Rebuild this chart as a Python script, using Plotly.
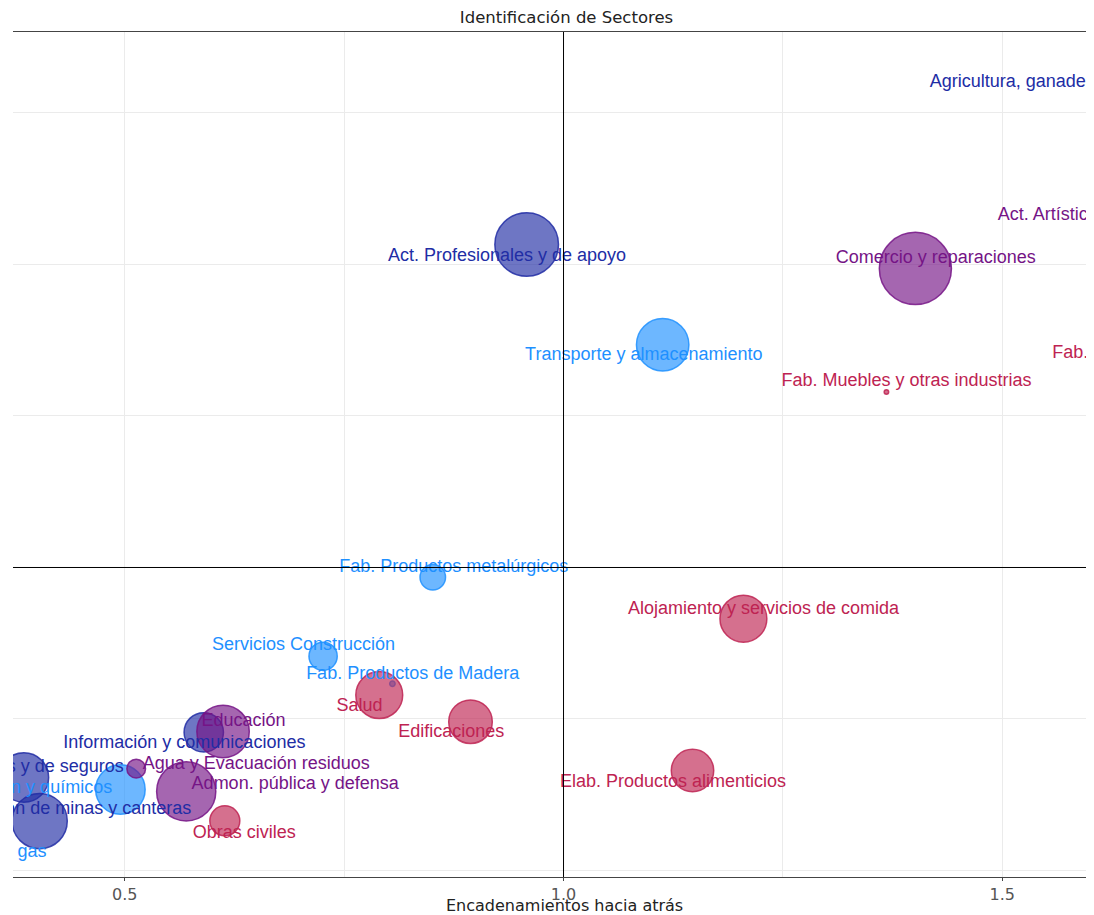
import plotly.graph_objects as go

# ---- Datos ----
sectores = [
    "Act. Profesionales y de apoyo", "Comercio y reparaciones", "Transporte y almacenamiento",
    "Fab. Muebles y otras industrias", "Fab. Productos metalúrgicos", "Alojamiento y servicios de comida",
    "Servicios Construcción", "Fab. Productos de Madera", "Salud", "Edificaciones", "Educación",
    "Información y comunicaciones", "Agua y Evacuación residuos", "Admon. pública y defensa",
    "Obras civiles", "Elab. Productos alimenticios", "Act. Financieras y de seguros",
    "Fab. Refinación y químicos", "Explotación de minas y canteras", "Electricidad y gas",
    "Agricultura, ganadería y pesca", "Act. Artísticas y otros servicios", "Fab. Textiles y cuero",
]
grupo = [
    "azul", "morado", "celeste", "carmesi", "celeste", "carmesi", "celeste", "celeste", "carmesi",
    "carmesi", "morado", "azul", "morado", "morado", "carmesi", "carmesi", "azul", "celeste",
    "azul", "celeste", "azul", "morado", "carmesi",
]
# Encadenamientos hacia atrás
atras = [0.958, 1.401, 1.113, 1.368, 0.851, 1.205, 0.726, 0.805, 0.790, 0.894, 0.612,
         0.590, 0.513, 0.570, 0.614, 1.147, 0.385, 0.495, 0.403, 0.330, 1.700, 1.660, 1.650]
# Encadenamientos hacia adelante
adelante = [2.066, 1.987, 1.735, 1.579, 0.968, 0.831, 0.707, 0.616, 0.579, 0.491, 0.459,
            0.456, 0.336, 0.261, 0.164, 0.330, 0.307, 0.267, 0.163, 0.090, 2.630, 2.200, 1.680]
# Peso del sector (participación, %)
peso = [8.1, 10.4, 5.5, 0.04, 1.3, 4.4, 1.6, 0.06, 4.4, 3.8, 5.5,
        3.1, 0.7, 7.0, 1.8, 3.6, 4.9, 4.9, 6.1, 3.0, 5.0, 3.0, 2.0]
# Ubicación de las etiquetas (en unidades de los ejes)
etiqueta_x = [0.9356, 1.4243, 1.0915, 1.3909, 0.8749, 1.2279, 0.7037, 0.8281, 0.7675, 0.8720, 0.6353,
              0.5679, 0.6499, 0.6942, 0.6361, 1.1248, 0.4989, 0.4856, 0.5757, 0.4108, 1.4174, 1.4949, 1.5569]
etiqueta_y = [2.026, 2.021, 1.699, 1.615, 1.001, 0.862, 0.742, 0.648, 0.542, 0.454, 0.493,
              0.418, 0.350, 0.284, 0.123, 0.289, 0.339, 0.272, 0.200, 0.060, 2.602, 2.162, 1.705]
etiqueta_pos = ["middle center"] * 16 + ["middle left"] * 4 + ["middle right"] * 3

# Umbral (promedio = 1) que divide los cuadrantes
umbral_x = 1.0
umbral_y = 1.0

colores = {
    "azul": (33, 45, 165),
    "celeste": (30, 144, 255),
    "morado": (117, 20, 134),
    "carmesi": (190, 35, 82),
}


def rgba(c, a=1.0):
    return "rgba(%d,%d,%d,%s)" % (c[0], c[1], c[2], a)


fig = go.Figure()

for g in ["azul", "celeste", "morado", "carmesi"]:
    idx = [i for i, v in enumerate(grupo) if v == g]
    fig.add_trace(go.Scatter(
        x=[atras[i] for i in idx], y=[adelante[i] for i in idx],
        mode="markers",
        marker=dict(size=[peso[i] for i in idx], sizemode="area", sizeref=0.004, sizemin=2,
                    opacity=1, color=rgba(colores[g], 0.65),
                    line=dict(color=rgba(colores[g], 0.85), width=1.5)),
        hovertext=[sectores[i] for i in idx], showlegend=False, cliponaxis=True,
    ))

for g in ["azul", "celeste", "morado", "carmesi"]:
    idx = [i for i, v in enumerate(grupo) if v == g]
    fig.add_trace(go.Scatter(
        x=[etiqueta_x[i] for i in idx], y=[etiqueta_y[i] for i in idx],
        mode="text", text=[sectores[i] for i in idx],
        textposition=[etiqueta_pos[i] for i in idx],
        textfont=dict(family="Liberation Sans, Arial", size=18, color=rgba(colores[g])),
        showlegend=False, cliponaxis=True, hoverinfo="skip",
    ))

fig.add_vline(x=umbral_x, line=dict(color="black", width=1), layer="above")
fig.add_hline(y=umbral_y, line=dict(color="black", width=1), layer="above")

fig.add_annotation(text="Encadenamientos hacia atrás", xref="paper", yref="paper",
                   x=0.512, y=-0.0343, xanchor="center", yanchor="middle", showarrow=False,
                   font=dict(family="DejaVu Sans", size=16, color="#222"))

fig.update_layout(
    width=1086, height=907,
    margin=dict(l=5, r=4, t=24, b=38),
    paper_bgcolor="white", plot_bgcolor="white",
    title=dict(text="Identificación de Sectores", x=0.5143, y=0.9901, xanchor="center",
               yanchor="middle", xref="container", yref="container",
               font=dict(family="DejaVu Sans", size=16.5, color="#222")),
    xaxis=dict(range=[0.3726, 1.6000], tickvals=[0.5, 1.0, 1.5], ticktext=["0.5", "1.0", "1.5"],
               showgrid=True, gridcolor="#ebebeb", zeroline=False,
               minor=dict(dtick=0.25, tick0=0, showgrid=True, gridcolor="#ebebeb"),
               showline=True, mirror=True, linecolor="#444", linewidth=1,
               ticks="outside", ticklen=3, tickcolor="#444",
               tickfont=dict(family="DejaVu Sans", size=16, color="#555")),
    yaxis=dict(range=[-0.0215, 2.7673], dtick=0.5, tick0=0, showgrid=True, gridcolor="#ebebeb",
               zeroline=False, showticklabels=False, showline=False, ticks=""),
)

fig.write_html("out.html")
